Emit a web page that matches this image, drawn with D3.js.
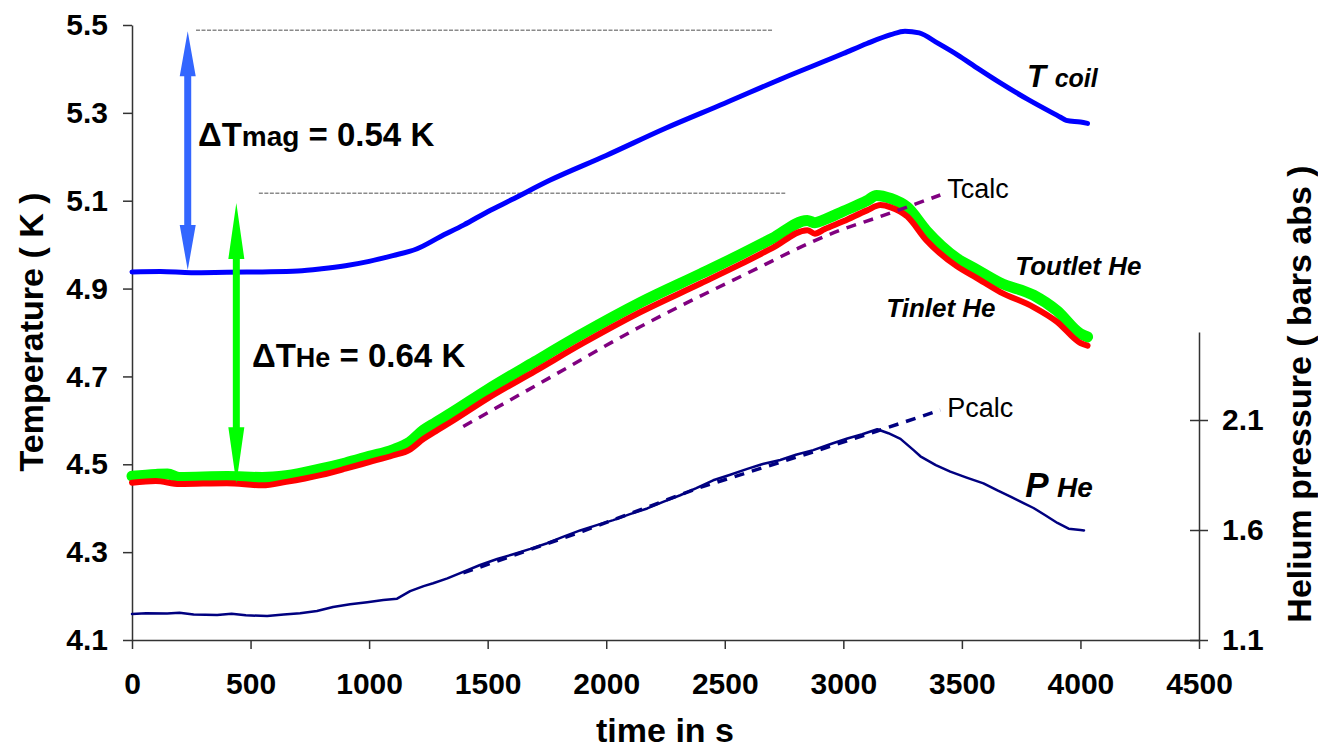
<!DOCTYPE html>
<html>
<head>
<meta charset="utf-8">
<script src="https://cdn.jsdelivr.net/npm/d3@7"></script>
<style>
body { margin: 0; background: #fff; }
text { font-family: "Liberation Sans", Arial, Helvetica, sans-serif; }
</style>
</head>
<body>
<svg id="chart" width="1318" height="748"></svg>
<script>
// tick values
var timeTicks = [0, 500, 1000, 1500, 2000, 2500, 3000, 3500, 4000, 4500];
var tempTicks = [4.1, 4.3, 4.5, 4.7, 4.9, 5.1, 5.3, 5.5];
var presTicks = [1.1, 1.6, 2.1];

// [time s, temperature K]
var tCoil = [[0, 4.938], [120, 4.939], [250, 4.936], [400, 4.937], [550, 4.938], [700, 4.940], [800, 4.945],
  [900, 4.952], [1000, 4.962], [1100, 4.975], [1200, 4.990], [1300, 5.018], [1400, 5.045], [1500, 5.075],
  [1600, 5.102], [1764, 5.147], [2000, 5.203], [2250, 5.265], [2500, 5.322], [2750, 5.380], [3000, 5.435],
  [3100, 5.458], [3200, 5.478], [3260, 5.486], [3320, 5.482], [3400, 5.458], [3481, 5.432], [3570, 5.400],
  [3662, 5.368], [3780, 5.330], [3916, 5.290], [3940, 5.283], [4000, 5.279], [4030, 5.276]];

var tOutlet = [[0, 4.473], [100, 4.477], [150, 4.478], [200, 4.470], [400, 4.472], [550, 4.470], [650, 4.474],
  [800, 4.490], [900, 4.503], [1000, 4.518], [1100, 4.533], [1170, 4.550], [1230, 4.578], [1280, 4.595],
  [1350, 4.618], [1500, 4.670], [1700, 4.734], [1900, 4.797], [2143, 4.868], [2400, 4.934], [2565, 4.977],
  [2700, 5.014], [2848, 5.055], [2880, 5.050], [2920, 5.057], [3000, 5.076], [3100, 5.100], [3140, 5.112],
  [3200, 5.105], [3270, 5.085], [3350, 5.032], [3481, 4.968], [3560, 4.944], [3662, 4.913], [3802, 4.885],
  [3900, 4.850], [4000, 4.797], [4030, 4.790]];

var tInlet = [[0, 4.458], [100, 4.462], [200, 4.455], [400, 4.457], [550, 4.452], [650, 4.460], [800, 4.476],
  [900, 4.490], [1000, 4.505], [1100, 4.520], [1170, 4.533], [1230, 4.558], [1280, 4.575], [1350, 4.598],
  [1500, 4.650], [1700, 4.712], [1900, 4.775], [2143, 4.846], [2400, 4.912], [2565, 4.955], [2700, 4.992],
  [2848, 5.033], [2880, 5.025], [2920, 5.035], [3000, 5.053], [3100, 5.078], [3156, 5.090], [3200, 5.085],
  [3270, 5.064], [3350, 5.010], [3481, 4.950], [3560, 4.925], [3662, 4.892], [3802, 4.858], [3900, 4.825],
  [4000, 4.776], [4030, 4.770]];

var tCalc = [[1397, 4.586], [1722, 4.685], [2143, 4.813], [2565, 4.927], [2987, 5.033], [3156, 5.064], [3409, 5.113]];

// [time s, pressure bar abs]
var pHe = [[0, 1.218], [60, 1.222], [148, 1.221], [200, 1.224], [260, 1.216], [359, 1.214], [420, 1.219],
  [480, 1.212], [570, 1.209], [640, 1.216], [709, 1.222], [780, 1.232], [848, 1.250], [920, 1.262],
  [992, 1.272], [1060, 1.282], [1118, 1.288], [1173, 1.322], [1230, 1.345], [1270, 1.358], [1330, 1.380],
  [1384, 1.404], [1468, 1.441], [1540, 1.468], [1608, 1.490], [1680, 1.514], [1751, 1.540], [1820, 1.570],
  [1890, 1.598], [1960, 1.622], [2030, 1.645], [2100, 1.672], [2173, 1.698], [2240, 1.728], [2312, 1.758],
  [2380, 1.790], [2451, 1.826], [2520, 1.850], [2595, 1.878], [2660, 1.900], [2734, 1.918], [2800, 1.942],
  [2873, 1.963], [2950, 1.992], [3017, 2.016], [3080, 2.035], [3143, 2.058], [3190, 2.040], [3241, 2.014],
  [3295, 1.964], [3325, 1.935], [3390, 1.895], [3451, 1.865], [3520, 1.838], [3591, 1.812], [3650, 1.780],
  [3705, 1.752], [3760, 1.722], [3802, 1.700], [3850, 1.668], [3903, 1.632], [3950, 1.606], [4000, 1.600],
  [4015, 1.598]];

var pCalc = [[1397, 1.405], [1900, 1.594], [2400, 1.795], [2873, 1.955], [3143, 2.050], [3409, 2.145]];

// reference levels [t start, t end, T]
var refLevels = [[270, 2705, 5.488], [535, 2755, 5.117]];
// double arrows: time position, low T, high T
var arrowTimes = [235, 440];
var arrowLows = [4.942, 4.457];
var arrowHighs = [5.486, 5.095];

var svg = d3.select("#chart");

var x = d3.scaleLinear().domain([0, 4500]).range([132, 1199]);
var yT = d3.scaleLinear().domain([4.1, 5.5]).range([640, 25]);
var yP = d3.scaleLinear().domain([1.1, 2.5]).range([640, 332]);

var axisColor = "#333";

function styleAxis(g) {
  g.select(".domain").attr("stroke", axisColor).attr("stroke-width", 1.5);
  g.selectAll(".tick line").attr("stroke", axisColor).attr("stroke-width", 1.5);
  g.selectAll(".tick text").attr("fill", "#000")
    .style("font-size", "30px").style("font-weight", "bold")
    .style("font-family", "'Liberation Sans', Arial, sans-serif");
}

var gx = svg.append("g").attr("transform", "translate(0," + yT(4.1) + ")")
  .call(d3.axisBottom(x).tickValues(timeTicks).tickSizeInner(9).tickSizeOuter(0).tickPadding(24)
    .tickFormat(d3.format("d")));
styleAxis(gx);

var gy = svg.append("g").attr("transform", "translate(" + x(0) + ",0)")
  .call(d3.axisLeft(yT).tickValues(tempTicks).tickSizeInner(9).tickSizeOuter(0).tickPadding(15)
    .tickFormat(d3.format(".1f")));
styleAxis(gy);

var gp = svg.append("g").attr("transform", "translate(" + x(4500) + ",0)")
  .call(d3.axisRight(yP).tickValues(presTicks).tickSizeInner(9).tickSizeOuter(0).tickPadding(14)
    .tickFormat(d3.format(".1f")));
styleAxis(gp);
gp.selectAll(".tick line").attr("x1", -9);

// axis titles
svg.append("text").attr("transform", "translate(43,332) rotate(-90)")
  .attr("text-anchor", "middle").style("font-size", "34px").style("font-weight", "bold")
  .text("Temperature ( K )");
svg.append("text").attr("transform", "translate(1311,394) rotate(-90)")
  .attr("text-anchor", "middle").style("font-size", "34px").style("font-weight", "bold")
  .text("Helium pressure ( bars abs )");
svg.append("text").attr("x", 665).attr("y", 742)
  .attr("text-anchor", "middle").style("font-size", "34px").style("font-weight", "bold")
  .text("time in s");

// grey reference levels
svg.selectAll(".ref").data(refLevels).enter().append("line")
  .attr("class", "ref")
  .attr("x1", function(d) { return x(d[0]); })
  .attr("x2", function(d) { return x(d[1]); })
  .attr("y1", function(d) { return yT(d[2]); })
  .attr("y2", function(d) { return yT(d[2]); })
  .attr("stroke", "#8a8a8a").attr("stroke-width", 1.5).attr("stroke-dasharray", "4,1.5");

function lineT(curve) {
  return d3.line().curve(curve || d3.curveLinear)
    .x(function(d) { return x(d[0]); }).y(function(d) { return yT(d[1]); });
}
var lineP = d3.line().x(function(d) { return x(d[0]); }).y(function(d) { return yP(d[1]); });

function addPath(data, gen, color, width, dash) {
  var p = svg.append("path").datum(data).attr("d", gen)
    .attr("fill", "none").attr("stroke", color).attr("stroke-width", width)
    .attr("stroke-linejoin", "round").attr("stroke-linecap", "round");
  if (dash) p.attr("stroke-dasharray", dash).attr("stroke-linecap", "butt");
  return p;
}

addPath(pHe, lineP, "#000080", 2.5);
addPath(tCoil, lineT(d3.curveMonotoneX), "#0000ff", 5);
addPath(tOutlet, lineT(d3.curveMonotoneX), "#00ff00", 11);
addPath(tInlet, lineT(d3.curveMonotoneX), "#ff0000", 6);
addPath(tCalc, lineT(d3.curveMonotoneX), "#800080", 3.5, "10,8");
addPath(pCalc, lineP, "#000080", 3.5, "10,8");

// double arrows
var arrowColors = ["#3366ff", "#00ff00"];
var arrowHeads = [45, 56];
arrowTimes.forEach(function(t, i) {
  var cx = x(t), top = yT(arrowHighs[i]), bot = yT(arrowLows[i]);
  var hl = arrowHeads[i], hw = 8, sw = 3.5;
  var pts = [[cx, top], [cx + hw, top + hl], [cx + sw, top + hl], [cx + sw, bot - hl], [cx + hw, bot - hl],
    [cx, bot], [cx - hw, bot - hl], [cx - sw, bot - hl], [cx - sw, top + hl], [cx - hw, top + hl]];
  svg.append("path").attr("d", "M" + pts.join("L") + "Z").attr("fill", arrowColors[i]);
});

// delta annotations
var dMag = svg.append("text").attr("x", x(278)).attr("y", yT(5.224))
  .style("font-size", "33px").style("font-weight", "bold");
dMag.append("tspan").text("\u0394T");
dMag.append("tspan").style("font-size", "28px").text("mag");
dMag.append("tspan").text(" = 0.54 K");

var dHe = svg.append("text").attr("x", x(506)).attr("y", yT(4.721))
  .style("font-size", "33px").style("font-weight", "bold");
dHe.append("tspan").text("\u0394T");
dHe.append("tspan").style("font-size", "27px").text("He");
dHe.append("tspan").text(" = 0.64 K");

// series labels
var lc = svg.append("text").attr("x", x(3775)).attr("y", yT(5.359))
  .style("font-weight", "bold").style("font-style", "italic");
lc.append("tspan").style("font-size", "31px").text("T ");
lc.append("tspan").style("font-size", "25px").text("coil");

svg.append("text").attr("x", x(3725)).attr("y", yT(4.931))
  .style("font-weight", "bold").style("font-style", "italic").style("font-size", "26px")
  .text("Toutlet He");
svg.append("text").attr("x", x(3181)).attr("y", yT(4.835))
  .style("font-weight", "bold").style("font-style", "italic").style("font-size", "26px")
  .text("Tinlet He");

var lp = svg.append("text").attr("x", x(3767)).attr("y", yP(1.75))
  .style("font-weight", "bold").style("font-style", "italic");
lp.append("tspan").style("font-size", "35px").text("P ");
lp.append("tspan").style("font-size", "28px").text("He");

svg.append("text").attr("x", x(3438)).attr("y", yT(5.106)).style("font-size", "27px").text("Tcalc");
svg.append("text").attr("x", x(3438)).attr("y", yP(2.114)).style("font-size", "27px").text("Pcalc");
</script>
</body>
</html>
